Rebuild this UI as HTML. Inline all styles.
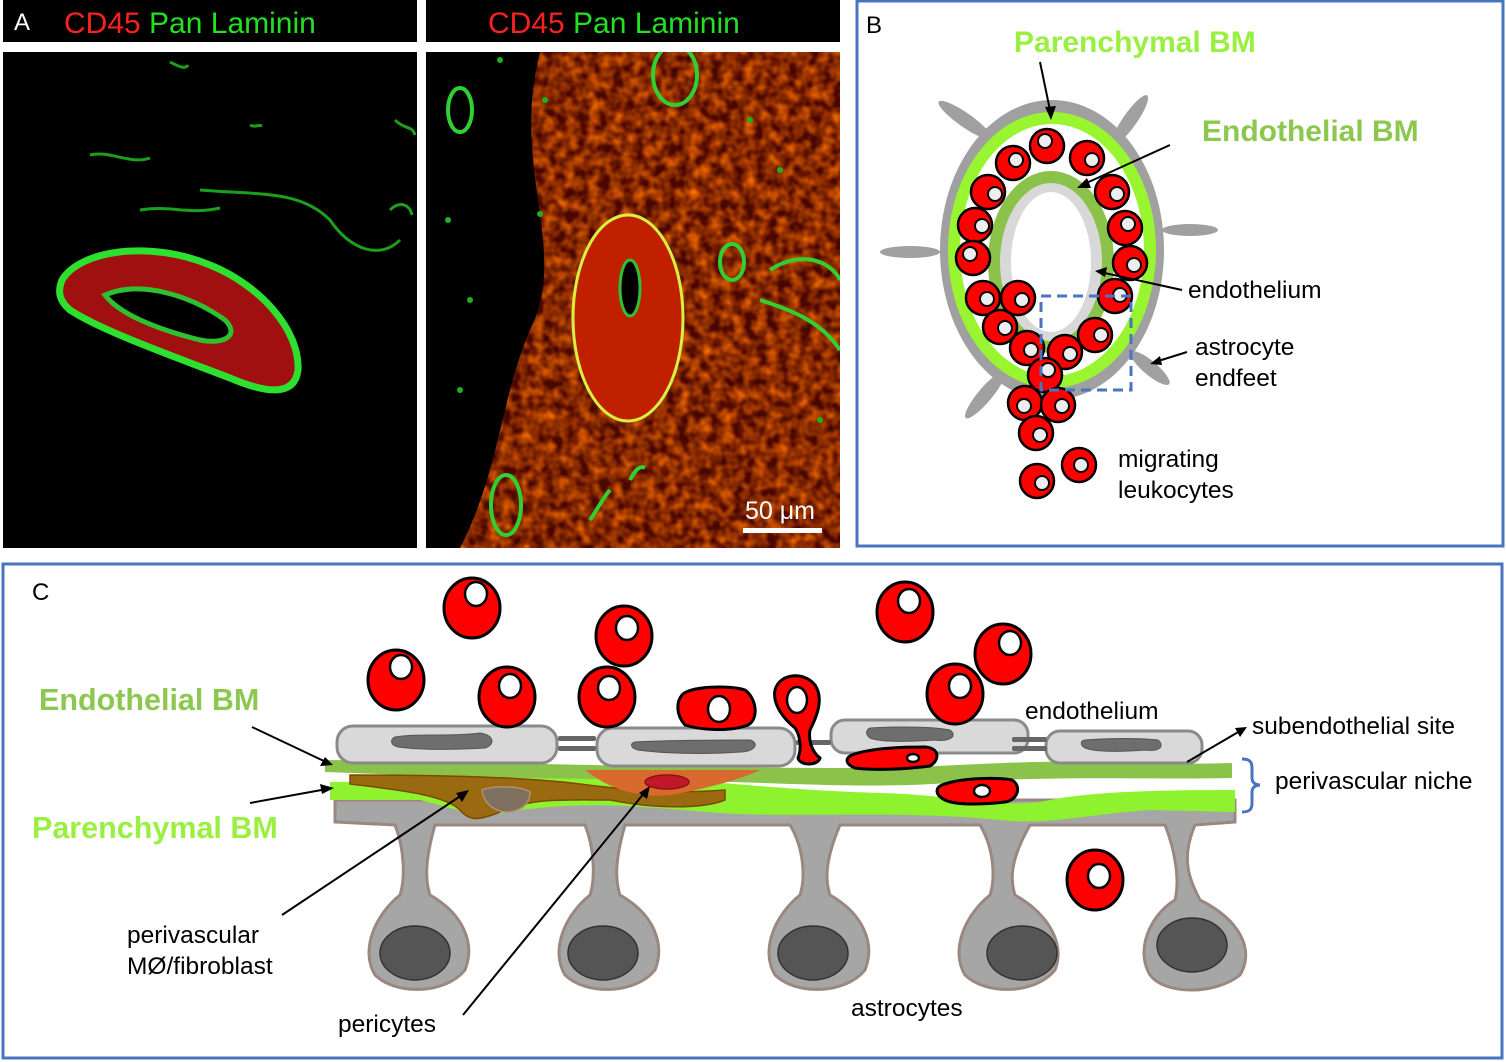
<!DOCTYPE html>
<html><head><meta charset="utf-8"><style>
html,body{margin:0;padding:0;background:#fff;}
svg{display:block;}
text{font-family:"Liberation Sans",Arial,sans-serif;}
</style></head><body>
<svg width="1506" height="1062" viewBox="0 0 1506 1062" xmlns="http://www.w3.org/2000/svg">
<defs>
<filter id="tex"><feTurbulence type="fractalNoise" baseFrequency="0.09" numOctaves="2" seed="3"/><feColorMatrix values="0 0 0 0 0.95  0 0 0 0 0.15  0 0 0 0 0  1.6 0 0 0 -0.45"/></filter>
<clipPath id="cA1"><rect x="3" y="52" width="414" height="496"/></clipPath>
<clipPath id="cA2"><rect x="426" y="52" width="414" height="496"/></clipPath>
<clipPath id="redArea"><path d="M540 52 L840 52 L840 548 L460 548 C500 470 500 400 530 330 C570 250 510 170 540 52Z"/></clipPath>
</defs>

<!-- Panel A -->
<rect x="3" y="0" width="414" height="42" fill="#000"/>
<rect x="426" y="0" width="414" height="42" fill="#000"/>
<text x="14" y="30" font-size="24" fill="#fff">A</text>
<text x="64" y="33" font-size="30" fill="#ff2020">CD45 <tspan fill="#22e022">Pan Laminin</tspan></text>
<text x="488" y="33" font-size="30" fill="#ff2020">CD45 <tspan fill="#22e022">Pan Laminin</tspan></text>

<rect x="3" y="52" width="414" height="496" fill="#000"/>
<g clip-path="url(#cA1)">
  <path d="M62 280 C80 250 150 240 210 265 C260 285 300 330 298 370 C295 395 270 395 230 378 C170 355 100 330 70 310 C58 300 58 290 62 280Z" fill="#a01010" stroke="#2ee02e" stroke-width="7"/>
  <path d="M105 295 C140 280 190 295 225 320 C240 335 225 345 200 340 C160 330 120 315 105 295Z" fill="#000" stroke="#2ec02e" stroke-width="5"/>
  <g fill="none" stroke="#1ca01c" stroke-width="3">
    <path d="M90 155 C110 150 130 165 150 158"/>
    <path d="M200 190 C260 195 300 190 330 220 C350 250 380 260 400 240"/>
    <path d="M140 210 C170 205 190 215 220 208"/>
    <path d="M395 120 C405 130 412 125 415 135"/>
    <path d="M390 210 C400 200 410 205 412 215"/>
    <path d="M170 62 C178 66 185 70 188 65"/>
    <path d="M250 125 C255 128 258 124 262 126"/>
  </g>
</g>

<rect x="426" y="52" width="414" height="496" fill="#000"/>
<g clip-path="url(#cA2)">
  <g clip-path="url(#redArea)">
    <rect x="426" y="52" width="414" height="496" fill="#4a0600"/>
    <rect x="426" y="52" width="414" height="496" filter="url(#tex)"/>
  </g>
  <ellipse cx="628" cy="318" rx="55" ry="103" fill="#c02000" stroke="#d8f040" stroke-width="3"/>
  <ellipse cx="630" cy="288" rx="10" ry="28" fill="#000" stroke="#30c030" stroke-width="3"/>
  <g fill="none" stroke="#30d030" stroke-width="4">
    <ellipse cx="675" cy="75" rx="22" ry="30"/>
    <ellipse cx="460" cy="110" rx="12" ry="22"/>
    <path d="M770 270 C800 250 830 260 840 280"/>
    <path d="M760 300 C790 310 820 320 840 350"/>
    <ellipse cx="732" cy="262" rx="12" ry="18"/>
    <ellipse cx="506" cy="505" rx="15" ry="30"/>
    <path d="M590 520 C600 505 605 495 610 490"/>
    <path d="M630 480 C635 470 640 465 645 468"/>
  </g>
  <g fill="#20b020">
    <circle cx="448" cy="220" r="3"/><circle cx="540" cy="214" r="3"/><circle cx="470" cy="300" r="3"/>
    <circle cx="460" cy="390" r="3"/><circle cx="500" cy="60" r="3"/><circle cx="545" cy="100" r="3"/>
    <circle cx="750" cy="120" r="3"/><circle cx="780" cy="170" r="3"/><circle cx="820" cy="420" r="3"/>
  </g>
  <rect x="743" y="528" width="79" height="5" fill="#fff"/>
  <text x="745" y="519" font-size="25" fill="#fff">50 μm</text>
</g>

<!-- Panel B -->
<rect x="857" y="1" width="646" height="545" fill="none" stroke="#4a74c0" stroke-width="3"/>
<text x="866" y="33" font-size="24" fill="#000">B</text>
<text x="1014" y="52" font-size="30" font-weight="bold" fill="#99f040">Parenchymal BM</text>
<text x="1202" y="141" font-size="30" font-weight="bold" fill="#8cc850">Endothelial BM</text>
<text x="1188" y="298" font-size="24.5" fill="#000">endothelium</text>
<text x="1195" y="355" font-size="24.5" fill="#000">astrocyte</text>
<text x="1195" y="386" font-size="24.5" fill="#000">endfeet</text>
<text x="1118" y="467" font-size="24.5" fill="#000">migrating</text>
<text x="1118" y="498" font-size="24.5" fill="#000">leukocytes</text>
<g fill="#a0a0a0">
  <ellipse cx="1052" cy="250" rx="112" ry="150"/>
  <ellipse cx="965" cy="120" rx="32" ry="7" transform="rotate(35 965 120)"/>
  <ellipse cx="1130" cy="120" rx="30" ry="7" transform="rotate(-55 1130 120)"/>
  <ellipse cx="910" cy="252" rx="30" ry="6"/>
  <ellipse cx="1190" cy="230" rx="28" ry="6"/>
  <ellipse cx="985" cy="395" rx="30" ry="7" transform="rotate(-50 985 395)"/>
  <ellipse cx="1150" cy="368" rx="25" ry="7" transform="rotate(40 1150 368)"/>
</g>
<ellipse cx="1052" cy="250" rx="98" ry="132" fill="#fff" stroke="#99f530" stroke-width="12"/>
<ellipse cx="1051" cy="262" rx="57" ry="85" fill="#d8d8d8" stroke="#8bc34a" stroke-width="12"/>
<ellipse cx="1051" cy="262" rx="40" ry="70" fill="#fff"/>
<g stroke="#000" stroke-width="2.5">
  <g fill="#ff0000">
    <circle cx="1047" cy="146" r="17"/><circle cx="1087" cy="158" r="17"/><circle cx="1013" cy="163" r="17"/>
    <circle cx="1112" cy="192" r="17"/><circle cx="988" cy="192" r="17"/><circle cx="1125" cy="228" r="17"/>
    <circle cx="975" cy="225" r="17"/><circle cx="1130" cy="263" r="17"/><circle cx="973" cy="258" r="17"/>
    <circle cx="1115" cy="296" r="17"/><circle cx="983" cy="298" r="17"/><circle cx="1018" cy="298" r="17"/>
    <circle cx="1000" cy="327" r="17"/><circle cx="1095" cy="335" r="17"/><circle cx="1065" cy="352" r="17"/>
    <circle cx="1027" cy="348" r="17"/><circle cx="1045" cy="375" r="17"/><circle cx="1025" cy="403" r="17"/>
    <circle cx="1058" cy="405" r="17"/><circle cx="1036" cy="433" r="17"/><circle cx="1037" cy="481" r="17"/>
    <circle cx="1079" cy="465" r="17"/>
  </g>
  <g fill="#eee" stroke-width="2">
    <circle cx="1045" cy="141" r="7"/><circle cx="1092" cy="160" r="7"/><circle cx="1016" cy="160" r="7"/>
    <circle cx="1117" cy="194" r="7"/><circle cx="995" cy="194" r="7"/><circle cx="1128" cy="224" r="7"/>
    <circle cx="982" cy="226" r="7"/><circle cx="1134" cy="265" r="7"/><circle cx="970" cy="254" r="7"/>
    <circle cx="1120" cy="295" r="7"/><circle cx="987" cy="299" r="7"/><circle cx="1022" cy="300" r="7"/>
    <circle cx="1005" cy="328" r="7"/><circle cx="1101" cy="335" r="7"/><circle cx="1070" cy="354" r="7"/>
    <circle cx="1031" cy="350" r="7"/><circle cx="1048" cy="370" r="7"/><circle cx="1024" cy="406" r="7"/>
    <circle cx="1062" cy="406" r="7"/><circle cx="1040" cy="435" r="7"/><circle cx="1042" cy="483" r="7"/>
    <circle cx="1081" cy="465" r="7"/>
  </g>
</g>
<rect x="1041" y="296" width="90" height="94" fill="none" stroke="#4a74c0" stroke-width="3" stroke-dasharray="10,6"/>
<g stroke="#000" stroke-width="2" fill="none">
  <line x1="1040" y1="62" x2="1051" y2="115"/>
  <line x1="1170" y1="145" x2="1082" y2="185"/>
  <line x1="1182" y1="290" x2="1100" y2="272"/>
  <line x1="1187" y1="352" x2="1155" y2="362"/>
</g>
<g fill="#000">
  <path d="M1051 120 L1045 107 L1056 106Z"/>
  <path d="M1077 188 L1087 178 L1091 188Z"/>
  <path d="M1095 271 L1107 267 L1105 277Z"/>
  <path d="M1150 364 L1160 356 L1162 365Z"/>
</g>

<!-- Panel C -->
<rect x="3" y="564" width="1499" height="494" fill="none" stroke="#4a74c0" stroke-width="3"/>
<text x="32" y="600" font-size="24" fill="#000">C</text>
<text x="39" y="710" font-size="30.5" font-weight="bold" fill="#8cc850">Endothelial BM</text>
<text x="32" y="838" font-size="30.5" font-weight="bold" fill="#99f040">Parenchymal BM</text>
<text x="1025" y="719" font-size="24.5" fill="#000">endothelium</text>
<text x="1252" y="734" font-size="24.5" fill="#000">subendothelial site</text>
<text x="1275" y="789" font-size="24.5" fill="#000">perivascular niche</text>
<text x="127" y="943" font-size="24.5" fill="#000">perivascular</text>
<text x="127" y="974" font-size="24.5" fill="#000">MØ/fibroblast</text>
<text x="338" y="1032" font-size="24.5" fill="#000">pericytes</text>
<text x="851" y="1016" font-size="24.5" fill="#000">astrocytes</text>

<!-- astrocytes -->
<g fill="#a6a6a6" stroke="#9a8880" stroke-width="3">
  <path d="M335 800 L1235 800 L1235 822 L1195 825 C1180 860 1190 880 1200 900 C1240 920 1255 950 1240 975 C1215 995 1165 995 1150 975 C1135 950 1150 915 1175 900 C1180 880 1175 850 1165 825 L1030 825 C1010 860 1010 880 1015 895 C1050 915 1065 945 1055 970 C1035 995 985 995 965 975 C950 950 965 915 990 895 C995 880 995 850 980 825 L840 825 C825 860 825 880 830 895 C865 915 875 945 865 970 C845 995 795 995 775 975 C760 950 775 915 800 895 C805 880 805 850 790 825 L625 825 C615 860 615 880 620 895 C655 915 665 945 655 970 C635 995 585 995 565 975 C550 950 565 915 590 895 C595 880 595 850 585 825 L435 825 C425 860 425 880 430 895 C465 915 475 945 465 970 C445 995 395 995 375 975 C360 950 375 915 400 895 C405 880 405 850 395 825 L335 822Z"/>
</g>
<g fill="#555" stroke="#333" stroke-width="1.5">
  <ellipse cx="415" cy="953" rx="35" ry="27"/>
  <ellipse cx="603" cy="953" rx="35" ry="27"/>
  <ellipse cx="813" cy="953" rx="35" ry="27"/>
  <ellipse cx="1022" cy="953" rx="35" ry="27"/>
  <ellipse cx="1192" cy="945" rx="35" ry="27"/>
</g>
<!-- BMs -->
<path d="M330 782 C420 782 500 776 600 777 C700 778 770 790 880 793 C960 795 1000 810 1050 800 C1090 792 1150 790 1235 790 L1235 812 L1150 810 C1080 815 1050 825 1000 820 C900 810 800 818 720 813 C650 808 600 800 520 810 C480 820 460 810 420 800 L330 800Z" fill="#8ef22e"/>
<path d="M325 760 C500 762 650 768 850 768 C950 768 1000 760 1100 762 C1160 764 1200 764 1232 763 L1232 778 C1150 780 1050 775 950 783 C850 790 750 780 600 779 C500 778 400 775 325 772Z" fill="#8bc34a"/>
<!-- fibroblast / pericyte -->
<path d="M350 775 C420 775 520 776 580 784 C640 792 690 793 725 790 L725 800 C700 810 650 808 610 800 C560 800 530 798 500 812 C480 820 470 822 460 810 C445 795 400 790 350 784Z" fill="#9a6a10" stroke="#7a4a00" stroke-width="1.5"/>
<path d="M482 790 C495 785 520 786 530 792 C530 805 520 812 505 812 C490 810 483 800 482 790Z" fill="#807060" stroke="#b09070" stroke-width="1.5"/>
<path d="M585 770 L760 770 C740 780 700 790 670 795 C640 798 610 790 585 770Z" fill="#d86a30"/>
<ellipse cx="667" cy="782" rx="22" ry="7" fill="#c01828" stroke="#901010" stroke-width="1.5"/>
<!-- endothelium -->
<g fill="#d9d9d9" stroke="#8a8a8a" stroke-width="3">
  <rect x="337" y="726" width="220" height="37" rx="16"/>
  <rect x="597" y="728" width="198" height="38" rx="16"/>
  <rect x="831" y="720" width="197" height="33" rx="14"/>
  <rect x="1046" y="731" width="156" height="32" rx="14"/>
</g>
<g fill="#6e6e6e" stroke="#555" stroke-width="1">
  <path d="M395 737 C420 733 450 737 480 733 C495 735 495 745 485 748 C450 750 420 750 398 747 C390 745 390 739 395 737Z"/>
  <path d="M635 742 C670 740 720 740 750 740 C760 743 755 752 740 752 C700 755 660 753 638 750 C630 748 630 743 635 742Z"/>
  <path d="M870 728 C900 726 935 727 950 730 C958 736 950 742 935 740 C905 742 880 742 870 738 C865 734 866 730 870 728Z"/>
  <path d="M1085 740 C1110 738 1140 738 1158 740 C1165 746 1160 752 1145 750 C1120 752 1095 752 1085 748 C1080 745 1080 741 1085 740Z"/>
</g>
<g fill="#666">
  <rect x="558" y="736" width="38" height="5" rx="2"/><rect x="558" y="746" width="38" height="5" rx="2"/>
  <rect x="796" y="740" width="35" height="5" rx="2"/>
  <rect x="1012" y="737" width="35" height="5" rx="2"/><rect x="1012" y="746" width="35" height="5" rx="2"/>
</g>
<!-- leukocytes -->
<g stroke="#000" stroke-width="3" fill="#ff0000">
  <ellipse cx="472" cy="608" rx="28" ry="30"/>
  <ellipse cx="396" cy="680" rx="28" ry="30"/>
  <ellipse cx="624" cy="636" rx="28" ry="30"/>
  <ellipse cx="507" cy="697" rx="28" ry="30"/>
  <ellipse cx="607" cy="697" rx="28" ry="30"/>
  <ellipse cx="905" cy="612" rx="28" ry="30"/>
  <ellipse cx="1003" cy="654" rx="28" ry="30"/>
  <ellipse cx="955" cy="694" rx="28" ry="30"/>
  <ellipse cx="1095" cy="880" rx="28" ry="30"/>
  <path d="M682 695 C690 686 730 685 745 690 C758 700 758 720 748 725 C730 732 700 730 685 725 C676 715 676 702 682 695Z"/>
  <path d="M775 690 C780 672 805 672 815 685 C825 700 815 720 810 730 C808 740 812 752 820 758 C818 766 800 766 798 758 C802 748 800 735 795 728 C785 720 772 705 775 690Z"/>
  <path d="M852 755 C870 748 900 747 925 747 C940 748 940 760 930 766 C900 770 870 770 855 768 C845 764 845 758 852 755Z"/>
  <path d="M942 785 C960 778 995 777 1012 780 C1022 786 1018 800 1005 802 C980 805 955 805 945 800 C935 795 935 788 942 785Z"/>
</g>
<g fill="#fff" stroke="#000" stroke-width="2.5">
  <ellipse cx="476" cy="594" rx="11" ry="12"/>
  <ellipse cx="401" cy="667" rx="11" ry="12"/>
  <ellipse cx="627" cy="628" rx="11" ry="12"/>
  <ellipse cx="510" cy="686" rx="11" ry="12"/>
  <ellipse cx="609" cy="688" rx="11" ry="12"/>
  <ellipse cx="909" cy="601" rx="11" ry="12"/>
  <ellipse cx="1010" cy="643" rx="11" ry="12"/>
  <ellipse cx="960" cy="686" rx="11" ry="12"/>
  <ellipse cx="1099" cy="876" rx="11" ry="12"/>
  <ellipse cx="719" cy="709" rx="11" ry="13"/>
  <ellipse cx="797" cy="700" rx="10" ry="13"/>
  <ellipse cx="913" cy="758" rx="6" ry="4"/>
  <ellipse cx="982" cy="791" rx="8" ry="6"/>
</g>
<!-- bracket -->
<path d="M1242 759 C1250 759 1252 762 1252 768 L1252 778 C1252 783 1256 785 1260 785 C1256 785 1252 787 1252 792 L1252 803 C1252 809 1250 812 1242 812" fill="none" stroke="#4a74c0" stroke-width="3"/>
<!-- arrows -->
<g stroke="#000" stroke-width="2" fill="none">
  <line x1="252" y1="727" x2="326" y2="762"/>
  <line x1="250" y1="803" x2="327" y2="789"/>
  <line x1="282" y1="915" x2="462" y2="795"/>
  <line x1="463" y1="1015" x2="645" y2="792"/>
  <line x1="1187" y1="762" x2="1240" y2="731"/>
</g>
<g fill="#000">
  <path d="M333 765 L320 766 L325 757Z"/>
  <path d="M334 788 L322 794 L320 784Z"/>
  <path d="M469 790 L462 802 L456 793Z"/>
  <path d="M650 786 L647 799 L639 793Z"/>
  <path d="M1247 727 L1240 737 L1235 728Z"/>
</g>
</svg>
</body></html>
